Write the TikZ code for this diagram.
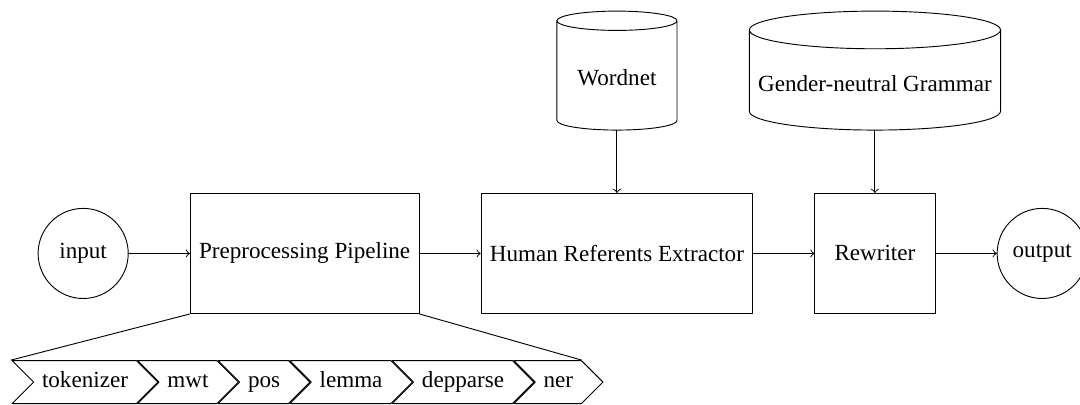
\documentclass[tikz,border=0pt]{standalone}
\usepackage{fontspec}
\setmainfont{Liberation Serif}
\usepackage{tikz}
\tikzset{>=to}
\usetikzlibrary{shapes,arrows}
\usetikzlibrary{positioning}
\usetikzlibrary{shapes.symbols}

\begin{document}
\begin{tikzpicture}[line cap=round,line join=round,node distance=26.5pt,
	block/.style={draw,rectangle,inner xsep=3.8pt,minimum width=52pt,minimum height=52pt},
	io/.style={draw,circle,minimum size=39pt},
	store/.style={draw,cylinder,shape border rotate=90,inner xsep=3.8pt,minimum width=52pt,minimum height=51.5pt},
	stage/.style={draw,signal,signal from=west,signal to=east,inner xsep=3.6pt,text height=8.5pt,text depth=3.5pt}]
	\useasboundingbox (0,0) rectangle (467.5pt,-175.3pt);
	\node[io] (input) at (36pt,-109.7pt) {input};
	\node[block,right=of input] (prep) {Preprocessing Pipeline};
	\node[block,right=of prep] (hre) {Human Referents Extractor};
	\node[block,right=of hre] (rewriter) {Rewriter};
	\node[io,right=of rewriter] (output) {output};
	\node[store,aspect=0.2,above=27pt of hre] (wordnet) {Wordnet};
	\node[store,aspect=0.15,above=27pt of rewriter] (grammar) {Gender-neutral Grammar};
	% the steps inside the pipeline
	\node[stage,anchor=west] (tokenizer) at (14.3pt,-165.4pt) {tokenizer};
	\node[stage,right=0pt of tokenizer] (mwt) {mwt};
	\node[stage,right=0pt of mwt] (pos) {pos};
	\node[stage,right=0pt of pos] (lemma) {lemma};
	\node[stage,right=0pt of lemma] (depparse) {depparse};
	\node[stage,right=0pt of depparse] (ner) {ner};
	\draw[->] (input) -- (prep);
	\draw[->] (prep) -- (hre);
	\draw[->] (hre) -- (rewriter);
	\draw[->] (rewriter) -- (output);
	\draw[->] (wordnet) -- (hre);
	\draw[->] (grammar) -- (rewriter);
	\draw (prep.south west) -- (tokenizer.north west);
	\draw (prep.south east) -- (ner.north east);
\end{tikzpicture}
\end{document}
